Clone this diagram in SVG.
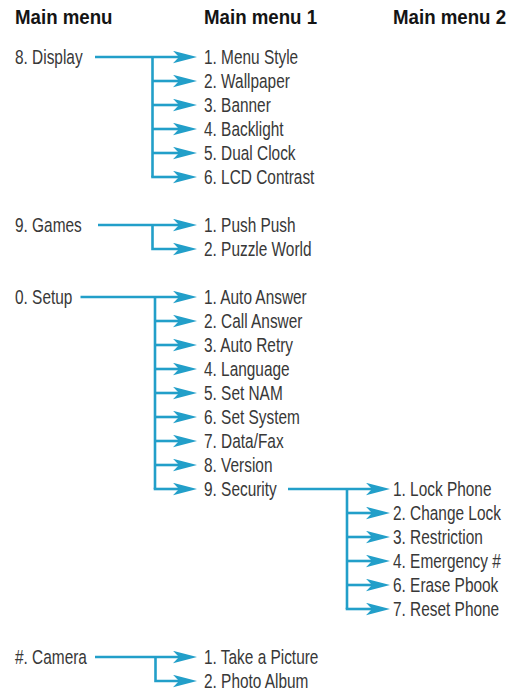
<svg xmlns="http://www.w3.org/2000/svg" width="515" height="692" viewBox="0 0 515 692">
<style>
.h{font-family:"Liberation Sans",Arial,sans-serif;font-weight:bold;font-size:21px;fill:#141414}
.t{font-family:"Liberation Sans",Arial,sans-serif;font-size:19.5px;fill:#383838}
.c{fill:none;stroke:#229fc9;stroke-width:2.6}
.a{marker-end:url(#ah)}
</style>
<defs>
<marker id="ah" viewBox="0 0 24 13" refX="6" refY="6.5" markerWidth="24" markerHeight="13" markerUnits="userSpaceOnUse" orient="auto">
<path d="M0,0.3 L24,6.5 L0,12.7 L6,6.5 Z" fill="#229fc9"/>
</marker>
</defs>
<g id="headers">
<text class="h" transform="translate(15,24) scale(.89,1)">Main menu</text>
<text class="h" transform="translate(204,24) scale(.89,1)">Main menu 1</text>
<text class="h" transform="translate(393,24) scale(.89,1)">Main menu 2</text>
</g>
<g id="connectors">
<path class="c a" d="M95,57 H179"/>
<path class="c" d="M152.5,57 V177"/>
<path class="c a" d="M152.5,81 H179"/>
<path class="c a" d="M152.5,105 H179"/>
<path class="c a" d="M152.5,129 H179"/>
<path class="c a" d="M152.5,153 H179"/>
<path class="c a" d="M151.2,177 H179"/>
<path class="c a" d="M98,225 H179"/>
<path class="c a" d="M152.5,225 V249 H179"/>
<path class="c a" d="M80.5,297 H179"/>
<path class="c" d="M155,297 V489"/>
<path class="c a" d="M155,321 H179"/>
<path class="c a" d="M155,345 H179"/>
<path class="c a" d="M155,369 H179"/>
<path class="c a" d="M155,393 H179"/>
<path class="c a" d="M155,417 H179"/>
<path class="c a" d="M155,441 H179"/>
<path class="c a" d="M155,465 H179"/>
<path class="c a" d="M153.7,489 H179"/>
<path class="c a" d="M288,489 H372"/>
<path class="c" d="M347,489 V609"/>
<path class="c a" d="M347,513 H372"/>
<path class="c a" d="M347,537 H372"/>
<path class="c a" d="M347,561 H372"/>
<path class="c a" d="M347,585 H372"/>
<path class="c a" d="M345.7,609 H372"/>
<path class="c a" d="M95,657 H179"/>
<path class="c a" d="M155.5,657 V681 H179"/>
</g>
<g id="display">
<text class="t" transform="translate(15,64) scale(.79,1)">8. Display</text>
<text class="t" transform="translate(204,64) scale(.79,1)">1. Menu Style</text>
<text class="t" transform="translate(204,88) scale(.79,1)">2. Wallpaper</text>
<text class="t" transform="translate(204,112) scale(.79,1)">3. Banner</text>
<text class="t" transform="translate(204,136) scale(.79,1)">4. Backlight</text>
<text class="t" transform="translate(204,160) scale(.79,1)">5. Dual Clock</text>
<text class="t" transform="translate(204,184) scale(.79,1)">6. LCD Contrast</text>
</g>
<g id="games">
<text class="t" transform="translate(15,232) scale(.79,1)">9. Games</text>
<text class="t" transform="translate(204,232) scale(.79,1)">1. Push Push</text>
<text class="t" transform="translate(204,256) scale(.79,1)">2. Puzzle World</text>
</g>
<g id="setup">
<text class="t" transform="translate(15,304) scale(.79,1)">0. Setup</text>
<text class="t" transform="translate(204,304) scale(.79,1)">1. Auto Answer</text>
<text class="t" transform="translate(204,328) scale(.79,1)">2. Call Answer</text>
<text class="t" transform="translate(204,352) scale(.79,1)">3. Auto Retry</text>
<text class="t" transform="translate(204,376) scale(.79,1)">4. Language</text>
<text class="t" transform="translate(204,400) scale(.79,1)">5. Set NAM</text>
<text class="t" transform="translate(204,424) scale(.79,1)">6. Set System</text>
<text class="t" transform="translate(204,448) scale(.79,1)">7. Data/Fax</text>
<text class="t" transform="translate(204,472) scale(.79,1)">8. Version</text>
<text class="t" transform="translate(204,496) scale(.79,1)">9. Security</text>
</g>
<g id="security">
<text class="t" transform="translate(393,496) scale(.79,1)">1. Lock Phone</text>
<text class="t" transform="translate(393,520) scale(.79,1)">2. Change Lock</text>
<text class="t" transform="translate(393,544) scale(.79,1)">3. Restriction</text>
<text class="t" transform="translate(393,568) scale(.79,1)">4. Emergency #</text>
<text class="t" transform="translate(393,592) scale(.79,1)">6. Erase Pbook</text>
<text class="t" transform="translate(393,616) scale(.79,1)">7. Reset Phone</text>
</g>
<g id="camera">
<text class="t" transform="translate(15,664) scale(.79,1)">#. Camera</text>
<text class="t" transform="translate(204,664) scale(.79,1)">1. Take a Picture</text>
<text class="t" transform="translate(204,688) scale(.79,1)">2. Photo Album</text>
</g>
</svg>
